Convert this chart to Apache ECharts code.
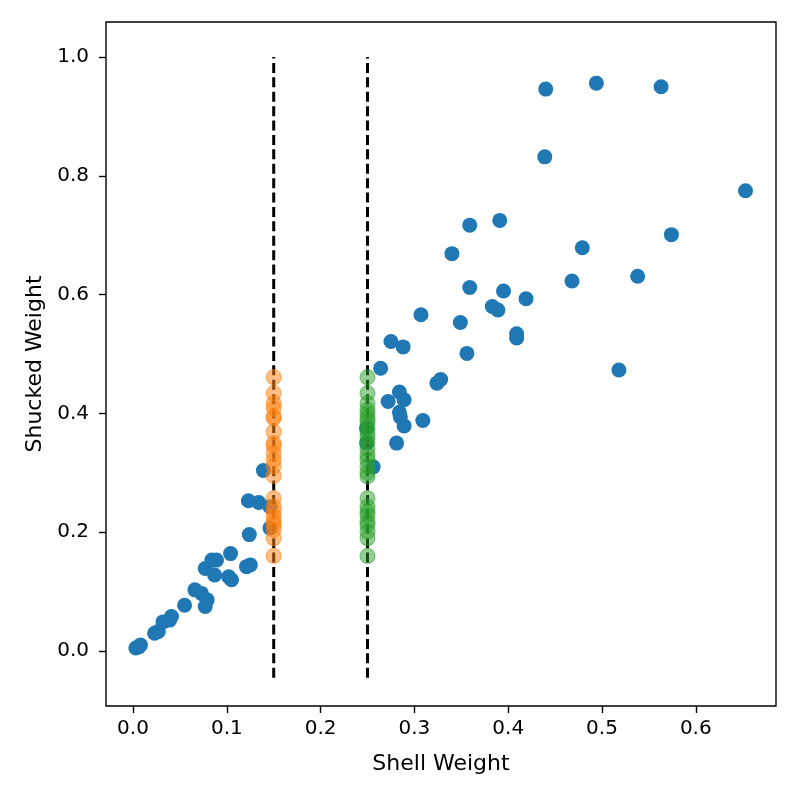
<!DOCTYPE html>
<html lang="en">
<head>
    <meta charset="UTF-8">
    <title>shell vs shucked</title>
    <script src="https://cdn.jsdelivr.net/npm/echarts@6/dist/echarts.min.js"></script>
    <style>
        body { margin: 0; background: #fff; }
    </style>
</head>
<body>
<div id="main" style="width: 800px;height:800px;"></div>
<script>
    // blue points (all samples)
    var blueX = [0.006, 0.003, 0.008, 0.023, 0.027, 0.032, 0.039, 0.041, 0.055,
        0.066, 0.073, 0.079, 0.077, 0.077, 0.084, 0.087, 0.089, 0.102, 0.105, 0.104,
        0.121, 0.125, 0.124, 0.123, 0.134, 0.139, 0.146, 0.146,
        0.256, 0.249, 0.249, 0.281, 0.289, 0.309, 0.284, 0.285, 0.284, 0.289, 0.272,
        0.324, 0.328, 0.264, 0.356, 0.275, 0.288, 0.409, 0.409, 0.349, 0.307,
        0.383, 0.389, 0.419, 0.395, 0.359, 0.468, 0.538, 0.479, 0.340, 0.574,
        0.359, 0.391, 0.653, 0.439, 0.440, 0.494, 0.563, 0.518];
    var blueY = [0.007, 0.005, 0.010, 0.030, 0.033, 0.049, 0.052, 0.058, 0.077,
        0.103, 0.097, 0.086, 0.075, 0.139, 0.153, 0.128, 0.153, 0.125, 0.120, 0.164,
        0.142, 0.145, 0.196, 0.253, 0.250, 0.304, 0.243, 0.207,
        0.310, 0.375, 0.350, 0.350, 0.379, 0.388, 0.402, 0.394, 0.436, 0.423, 0.420,
        0.451, 0.457, 0.476, 0.501, 0.521, 0.512, 0.534, 0.527, 0.553, 0.566,
        0.580, 0.574, 0.593, 0.606, 0.612, 0.623, 0.631, 0.679, 0.669, 0.701,
        0.717, 0.725, 0.775, 0.832, 0.946, 0.956, 0.950, 0.473];

    // points on the two cut lines
    var cutA = 0.15;
    var cutB = 0.25;
    var orangeY = [0.461, 0.434, 0.417, 0.409, 0.395, 0.392, 0.369, 0.350, 0.345, 0.333,
        0.322, 0.311, 0.295, 0.257, 0.243, 0.235, 0.226, 0.218, 0.212, 0.204, 0.190, 0.160];
    var greenY = [0.461, 0.434, 0.417, 0.406, 0.400, 0.392, 0.386, 0.378, 0.369, 0.361,
        0.352, 0.341, 0.330, 0.322, 0.311, 0.300, 0.294, 0.257, 0.243, 0.235, 0.229,
        0.218, 0.212, 0.201, 0.190, 0.160];

    var lineY = [-0.045, 1.0];
    var xTicks = [0.0, 0.1, 0.2, 0.3, 0.4, 0.5, 0.6];
    var yTicks = [0.0, 0.2, 0.4, 0.6, 0.8, 1.0];

    function zip(xs, ys) {
        var out = [];
        for (var i = 0; i < ys.length; i++) {
            out.push([Array.isArray(xs) ? xs[i] : xs, ys[i]]);
        }
        return out;
    }

    var myChart = echarts.init(document.getElementById('main'));
    var font = 'DejaVu Sans';

    function vline(x) {
        return {
            type: 'line',
            data: zip(x, lineY),
            symbol: 'none',
            silent: true,
            z: 3,
            lineStyle: { color: '#000', width: 3, type: [10, 4.4] }
        };
    }

    option = {
        animation: false,
        grid: {
            left: 106, right: 24, top: 22, bottom: 94,
            show: true, borderColor: '#000', borderWidth: 1.4
        },
        xAxis: {
            type: 'value',
            min: -0.0288, max: 0.6855,
            name: 'Shell Weight',
            nameLocation: 'middle',
            nameGap: 47,
            nameTextStyle: { color: '#000', fontSize: 22, fontFamily: font },
            splitLine: { show: false },
            axisLine: { show: false, onZero: false },
            axisTick: { show: true, length: 7, lineStyle: { color: '#000', width: 1.4 }, customValues: xTicks },
            axisLabel: {
                color: '#000', fontSize: 20, fontFamily: font, margin: 13,
                customValues: xTicks,
                formatter: function (v) { return v.toFixed(1); }
            }
        },
        yAxis: {
            type: 'value',
            min: -0.0926, max: 1.059,
            name: 'Shucked Weight',
            nameLocation: 'middle',
            nameGap: 60,
            nameTextStyle: { color: '#000', fontSize: 22, fontFamily: font },
            splitLine: { show: false },
            axisLine: { show: false, onZero: false },
            axisTick: { show: true, length: 7, lineStyle: { color: '#000', width: 1.4 }, customValues: yTicks },
            axisLabel: {
                color: '#000', fontSize: 20, fontFamily: font, margin: 17,
                customValues: yTicks,
                formatter: function (v) { return v.toFixed(1); }
            }
        },
        series: [
            {
                type: 'scatter',
                data: zip(blueX, blueY),
                symbolSize: 15,
                z: 2,
                itemStyle: { color: '#1f77b4', opacity: 1 }
            },
            vline(cutA),
            vline(cutB),
            {
                type: 'scatter',
                data: zip(cutA, orangeY),
                symbolSize: 15,
                z: 4,
                itemStyle: {
                    color: 'rgba(255,127,14,0.5)',
                    borderColor: 'rgba(255,127,14,0.5)',
                    borderWidth: 1.2,
                    opacity: 1
                }
            },
            {
                type: 'scatter',
                data: zip(cutB, greenY),
                symbolSize: 15,
                z: 4,
                itemStyle: {
                    color: 'rgba(44,160,44,0.5)',
                    borderColor: 'rgba(44,160,44,0.5)',
                    borderWidth: 1.2,
                    opacity: 1
                }
            }
        ]
    };
    myChart.setOption(option);
</script>
</body>
</html>
